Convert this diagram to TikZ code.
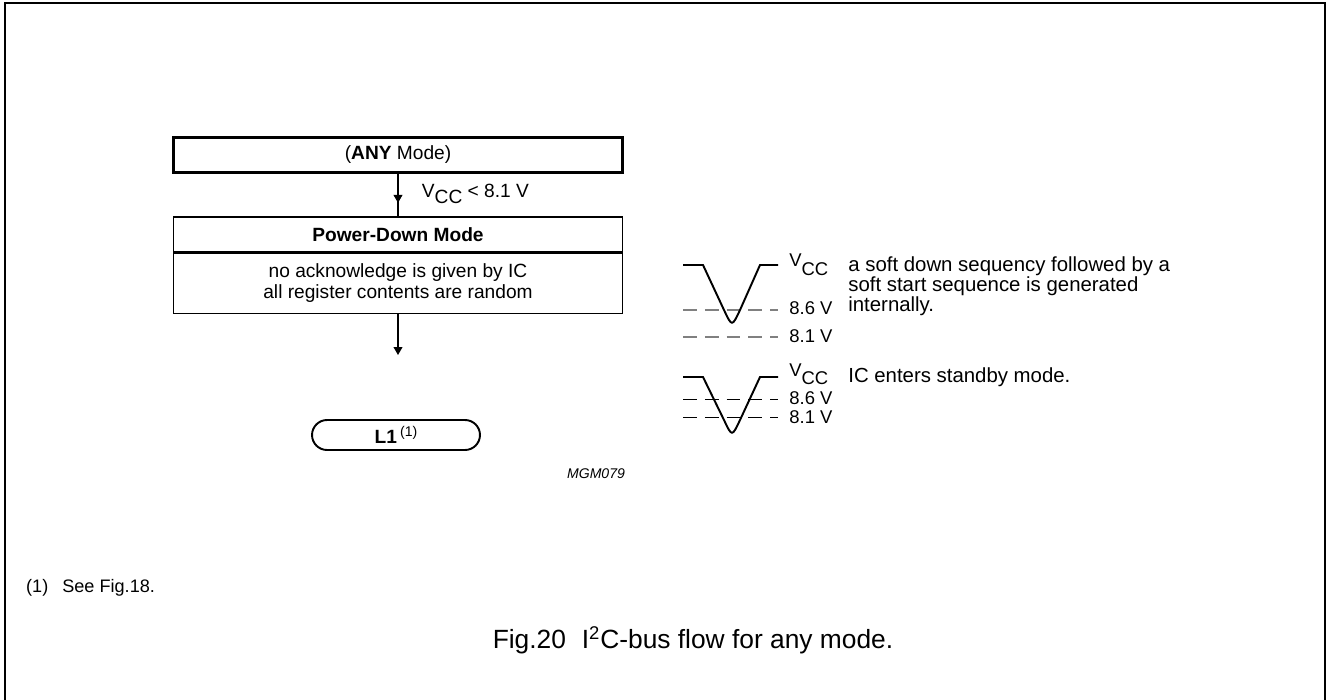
\documentclass[tikz,border=0pt]{standalone}
\usepackage{fontspec}
\setmainfont{Liberation Sans}
\usetikzlibrary{shapes.misc, arrows.meta, positioning, decorations.markings}

\newcommand{\vccsub}[1]{V\raisebox{-#1}{CC}}

\begin{document}
\begin{tikzpicture}[x=0.02cm, y=-0.02cm, font=\fontsize{10.9}{12.2}\selectfont,
    modebox/.style={draw, line width=1.7pt, minimum width=9cm, minimum height=0.7cm, inner sep=0pt},
    statebox/.style={draw, line width=0.6pt, minimum width=9cm, inner sep=0pt, align=center},
    terminal/.style={draw, rounded rectangle, line width=1.1pt, minimum width=3.36cm, minimum height=0.6cm, inner sep=0pt},
    flow/.style={line width=0.6pt, -{Triangle[length=4.5pt, width=5pt]}},
    midflow/.style={line width=0.6pt, postaction={decorate},
        decoration={markings, mark=at position 0.68 with {\arrow{Triangle[length=4.5pt, width=5pt]}}}},
    wave/.style={line width=1.1pt},
    levelgray/.style={gray, line width=0.6pt, dash pattern=on 7.9pt off 4.5pt},
    levelblack/.style={line width=0.5pt, dash pattern=on 7.9pt off 4.5pt},
    lvl/.style={anchor=base west, inner sep=0pt}]

    % --- frame ---
    \useasboundingbox (0,0) rectangle (1327,699);
    \draw[line width=1.1pt] (5,3) rectangle (1325,705);

    % --- flow ---
    \node[modebox] (anymode) at (398,155) {(\textbf{ANY} Mode)};
    \node[statebox, minimum height=0.7cm] (pdtitle) at (398,234.5) {\textbf{Power-Down Mode}};
    \node[statebox, minimum height=1.2cm, below=0pt of pdtitle] (pdbody)
        {no acknowledge is given by IC\\all register contents are random};
    \draw[midflow] (anymode.south) -- (pdtitle.north)
        node[pos=0.55, right=10pt, anchor=base west] {\vccsub{3.5pt} < 8.1 V};
    \coordinate (pdexit) at (398,355);
    \draw[flow] (pdbody.south) -- (pdexit);

    \node[terminal] (lone) at (396,435) {\textbf{L1}\,\raisebox{4pt}{\fontsize{8}{9}\selectfont (1)}};
    \node[font=\fontsize{8}{9}\selectfont\itshape] (figcode) at (596,474) {MGM079};

    % --- soft down / soft start ---
    \draw[levelgray] (683,310) -- (778,310);
    \draw[levelgray] (683,337) -- (778,337);
    \draw[wave] (683,265) -- (703,265) -- (724,310)
        .. controls (732,327) .. (740,310) -- (760,265) -- (778,265);
    \node[lvl, font=\fontsize{10.5}{12}\selectfont] (vccup) at (789,266) {\vccsub{5.5pt}};
    \node[lvl, font=\fontsize{10.5}{12}\selectfont] (upsix) at (789,314) {8.6 V};
    \node[lvl, font=\fontsize{10.5}{12}\selectfont] (upone) at (789,342) {8.1 V};
    \node[anchor=north west, align=left, inner sep=0pt, font=\fontsize{11.6}{11.6}\selectfont] (softtext) at (848,256)
        {a soft down sequency followed by a\\soft start sequence is generated\\internally.};

    % --- standby ---
    \draw[levelblack] (683,399) -- (778,399);
    \draw[levelblack] (683,417) -- (778,417);
    \draw[wave] (683,377) -- (703,377) -- (724,420)
        .. controls (732,437) .. (740,420) -- (760,377) -- (778,377);
    \node[lvl, font=\fontsize{10.5}{12}\selectfont] (vcclow) at (789,376) {\vccsub{5pt}};
    \node[lvl, font=\fontsize{10.5}{12}\selectfont] (lowsix) at (789,404) {8.6 V};
    \node[lvl, font=\fontsize{10.5}{12}\selectfont] (lowone) at (789,423) {8.1 V};
    \node[lvl, font=\fontsize{11.6}{14}\selectfont] (standbytext) at (848,382) {IC enters standby mode.};

    % --- notes ---
    \node[anchor=west, font=\fontsize{10.3}{12}\selectfont] (note) at (20,588) {(1)\hspace{8pt}See Fig.18.};
    \node[font=\fontsize{15}{18}\selectfont] (caption) at (693,640)
        {Fig.20\hspace{9pt}I\textsuperscript{2}C-bus flow for any mode.};

\end{tikzpicture}
\end{document}
